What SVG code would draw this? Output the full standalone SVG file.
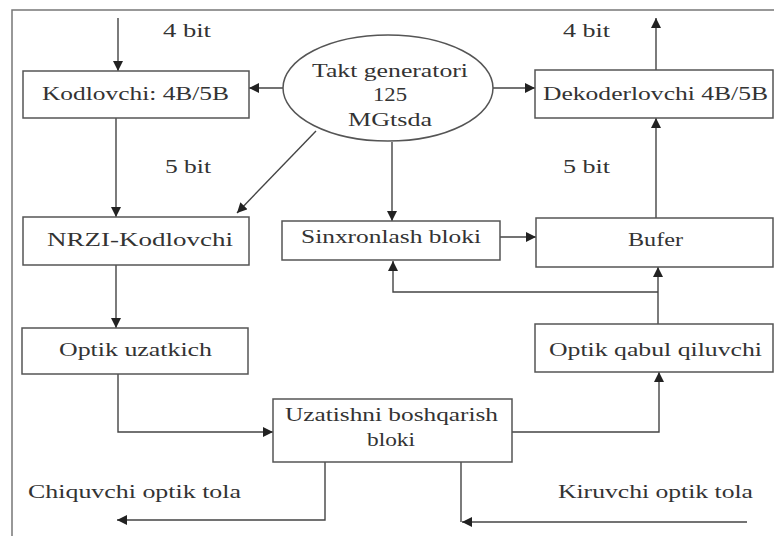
<svg xmlns="http://www.w3.org/2000/svg" width="774" height="536" viewBox="0 0 774 536">
<defs>
<marker id="ah" viewBox="0 0 10 10" refX="10" refY="5" markerWidth="11" markerHeight="10" markerUnits="userSpaceOnUse" orient="auto">
<path d="M0,0 L10,5 L0,10 z" fill="#222"/>
</marker>
<style>
.box{fill:#fff;stroke:#555;stroke-width:1.5}
.t{font-family:"Liberation Serif","Times New Roman",serif;font-size:19px;fill:#333}
.c{fill:none;stroke:#444;stroke-width:1.4}
.frame{fill:none;stroke:#777;stroke-width:1.5}
</style>
</defs>
<rect width="774" height="536" fill="#fff"/>
<path class="frame" d="M12,536 V10 H774"/>
<g id="connectors">
<path class="c" d="M118,18 V71" marker-end="url(#ah)"/>
<path class="c" d="M116,118 V217" marker-end="url(#ah)"/>
<path class="c" d="M116,265 V328" marker-end="url(#ah)"/>
<path class="c" d="M118,374 V432 H273" marker-end="url(#ah)"/>
<path class="c" d="M325,462 V520 H117" marker-end="url(#ah)"/>
<path class="c" d="M747,522 H462" marker-end="url(#ah)"/>
<path class="c" d="M461,462 V522"/>
<path class="c" d="M512,432 H659 V372" marker-end="url(#ah)"/>
<path class="c" d="M658,324 V267" marker-end="url(#ah)"/>
<path class="c" d="M658,292 H393 V261" marker-end="url(#ah)"/>
<path class="c" d="M500,237 H536" marker-end="url(#ah)"/>
<path class="c" d="M656,218 V118" marker-end="url(#ah)"/>
<path class="c" d="M656,70 V18" marker-end="url(#ah)"/>
<path class="c" d="M283,88 H249" marker-end="url(#ah)"/>
<path class="c" d="M493,88 H535" marker-end="url(#ah)"/>
<path class="c" d="M392,142 V221" marker-end="url(#ah)"/>
<path class="c" d="M316,131 L237,213" marker-end="url(#ah)"/>
</g>
<g id="labels">
<text class="t" x="163" y="37" textLength="48" lengthAdjust="spacingAndGlyphs">4 bit</text>
<text class="t" x="165" y="173" textLength="46" lengthAdjust="spacingAndGlyphs">5 bit</text>
<text class="t" x="563" y="37" textLength="47" lengthAdjust="spacingAndGlyphs">4 bit</text>
<text class="t" x="563" y="173" textLength="47" lengthAdjust="spacingAndGlyphs">5 bit</text>
<text class="t" x="28" y="498" textLength="213" lengthAdjust="spacingAndGlyphs">Chiquvchi optik tola</text>
<text class="t" x="558" y="498" textLength="195" lengthAdjust="spacingAndGlyphs">Kiruvchi optik tola</text>
</g>
<g id="kodlovchi">
<rect class="box" x="23" y="71" width="226" height="47"/>
<text class="t" x="42" y="100" textLength="187" lengthAdjust="spacingAndGlyphs">Kodlovchi: 4B/5B</text>
</g>
<g id="takt">
<ellipse class="box" cx="388" cy="88" rx="105" ry="53"/>
<text class="t" x="312" y="77" textLength="156" lengthAdjust="spacingAndGlyphs">Takt generatori</text>
<text class="t" x="373" y="101" textLength="34" lengthAdjust="spacingAndGlyphs">125</text>
<text class="t" x="348" y="126" textLength="84" lengthAdjust="spacingAndGlyphs">MGtsda</text>
</g>
<g id="dekoder">
<rect class="box" x="535" y="70" width="238" height="48"/>
<text class="t" x="543" y="100" textLength="225" lengthAdjust="spacingAndGlyphs">Dekoderlovchi 4B/5B</text>
</g>
<g id="nrzi">
<rect class="box" x="23" y="217" width="226" height="48"/>
<text class="t" x="47" y="246" textLength="186" lengthAdjust="spacingAndGlyphs">NRZI-Kodlovchi</text>
</g>
<g id="sinxron">
<rect class="box" x="282" y="221" width="218" height="39"/>
<text class="t" x="301" y="243" textLength="180" lengthAdjust="spacingAndGlyphs">Sinxronlash bloki</text>
</g>
<g id="bufer">
<rect class="box" x="536" y="218" width="237" height="49"/>
<text class="t" x="628" y="246" textLength="55" lengthAdjust="spacingAndGlyphs">Bufer</text>
</g>
<g id="uzatkich">
<rect class="box" x="22" y="328" width="226" height="46"/>
<text class="t" x="59" y="356" textLength="153" lengthAdjust="spacingAndGlyphs">Optik uzatkich</text>
</g>
<g id="qabul">
<rect class="box" x="535" y="324" width="238" height="48"/>
<text class="t" x="549" y="356" textLength="213" lengthAdjust="spacingAndGlyphs">Optik qabul qiluvchi</text>
</g>
<g id="uzatish">
<rect class="box" x="273" y="399" width="239" height="63"/>
<text class="t" x="285" y="421" textLength="213" lengthAdjust="spacingAndGlyphs">Uzatishni boshqarish</text>
<text class="t" x="367" y="446" textLength="48" lengthAdjust="spacingAndGlyphs">bloki</text>
</g>
</svg>
